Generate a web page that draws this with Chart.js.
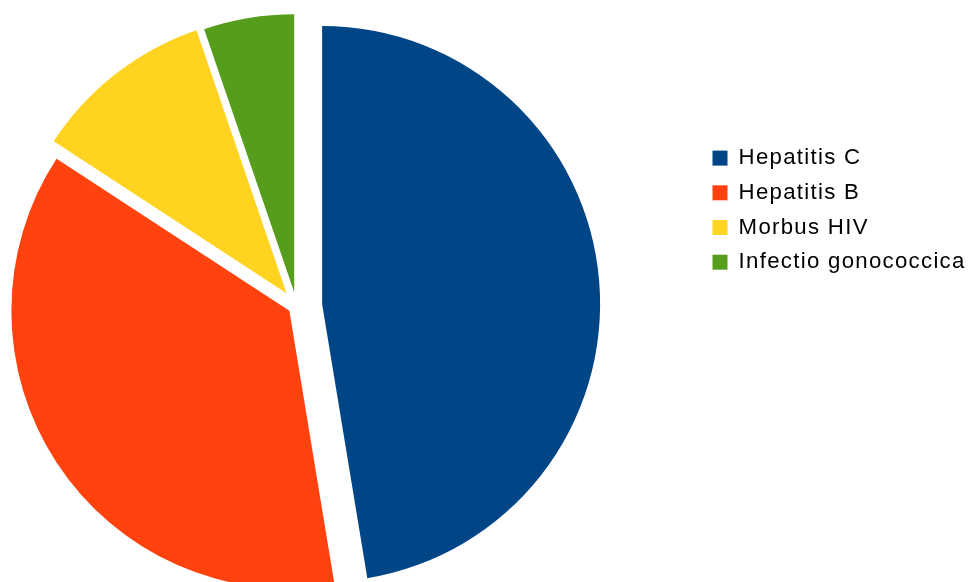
<!DOCTYPE html>
<html>
<head>
<meta charset="utf-8">
<script src="https://cdn.jsdelivr.net/npm/chart.js@4/dist/chart.umd.min.js"></script>
<style>
    html, body { margin: 0; padding: 0; background: #fff; overflow: hidden; }
    /* caja un poco mas ancha que la ventana para que el pastel quede a la izquierda */
    #caja { position: absolute; left: -107px; top: 0; width: 1077px; height: 582px; }
</style>
</head>
<body>
<div id="caja"><canvas id="grafica"></canvas></div>
<script>
// datos de la grafica
const etiquetas = ['Hepatitis C', 'Hepatitis B', 'Morbus HIV', 'Infectio gonococcica'];
const valores = [47.4, 36.8, 10.55, 5.25];

// estilo
const colores = ['#004586', '#ff420e', '#ffd320', '#579d1c'];
const separacion = [25.7, 8.5, 16.2, 14]; // cuanto se separa cada porcion del centro (px)
const anchoLeyenda = 270;

// mueve cada porcion hacia afuera, como un pastel "explotado"
const explotar = {
    id: 'explotar',
    afterDatasetUpdate(chart, args) {
        args.meta.data.forEach((arco, i) => {
            const d = separacion[i] || 0;
            const medio = (arco.startAngle + arco.endAngle) / 2;
            arco.x += Math.cos(medio) * d;
            arco.y += Math.sin(medio) * d;
        });
    }
};

// ancho fijo para la leyenda
const fijarLeyenda = {
    id: 'fijarLeyenda',
    beforeLayout(chart) {
        const leyenda = chart.legend;
        if (leyenda && !leyenda._fijada) {
            const fitOriginal = leyenda.fit;
            leyenda.fit = function () {
                fitOriginal.call(this);
                this.width = anchoLeyenda;
            };
            leyenda._fijada = true;
        }
    }
};

// letras un poco separadas en la leyenda
const espaciado = {
    id: 'espaciado',
    beforeDraw(chart) {
        chart.ctx.letterSpacing = '1.3px';
    }
};

const $grafica = document.querySelector('#grafica');

new Chart($grafica, {
    type: 'pie',
    data: {
        labels: etiquetas,
        datasets: [{
            data: valores,
            backgroundColor: colores,
            borderWidth: 0,
            radius: 278
        }]
    },
    options: {
        responsive: true,
        maintainAspectRatio: false,
        animation: false,
        devicePixelRatio: 1,
        layout: { padding: { top: 30, left: 0, right: 0, bottom: 0 } },
        plugins: {
            tooltip: { enabled: false },
            legend: {
                position: 'right',
                align: 'start',
                title: {
                    display: true,
                    text: '',
                    font: { size: 10, lineHeight: 1 },
                    padding: { top: 94.5, bottom: 0 }
                },
                labels: {
                    boxWidth: 15,
                    boxHeight: 15,
                    padding: 12.5,
                    color: '#000',
                    font: { family: "'Liberation Sans', Arial, sans-serif", size: 22.2 }
                }
            }
        }
    },
    plugins: [explotar, fijarLeyenda, espaciado]
});
</script>
</body>
</html>
